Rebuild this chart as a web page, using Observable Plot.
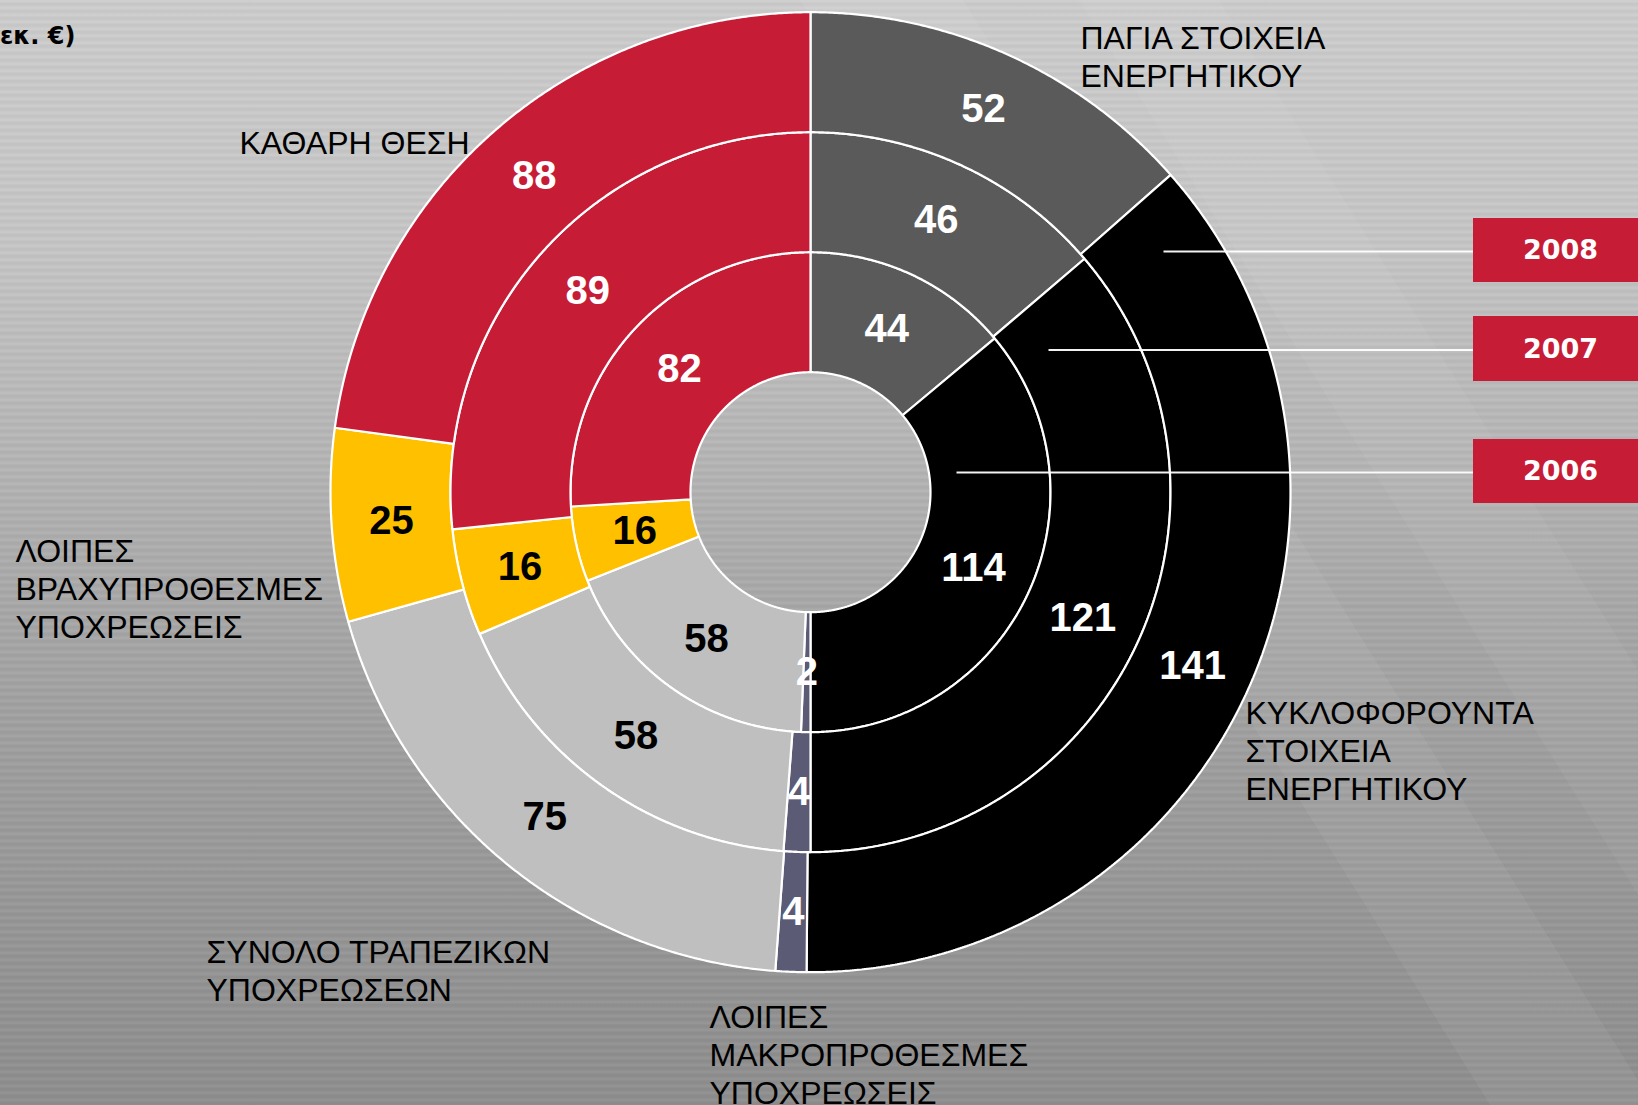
<!DOCTYPE html>
<html>
<head>
<meta charset="utf-8">
<script src="https://cdn.jsdelivr.net/npm/d3@7"></script>
<script src="https://cdn.jsdelivr.net/npm/@observablehq/plot@0.6"></script>
<style>
  html, body { margin: 0; padding: 0; width: 1638px; height: 1105px; overflow: hidden; }
  body {
    background:
      linear-gradient(58deg, rgba(255,255,255,0) 0 64%, rgba(255,255,255,0.05) 64% 71%, rgba(255,255,255,0) 71% 100%),
      linear-gradient(58deg, rgba(255,255,255,0) 0 76%, rgba(255,255,255,0.045) 76% 82%, rgba(255,255,255,0) 82% 100%),
      repeating-linear-gradient(180deg, rgba(255,255,255,0.035) 0px, rgba(255,255,255,0.035) 2px, rgba(0,0,0,0.03) 3px, rgba(0,0,0,0.03) 5px, rgba(255,255,255,0.02) 7px),
      linear-gradient(180deg, #cdcdcd 0%, #c6c6c6 22%, #b5b5b5 42%, #a8a8a8 55%, #9e9e9e 70%, #949494 88%, #8e8e8e 100%);
  }
  #chart { position: absolute; left: 0; top: 0; }
</style>
</head>
<body>
<div id="chart"></div>
<script>
// ---- data ----
const years = ["2006", "2007", "2008"]; // inner -> outer ring
const categories = [
  "ΠΑΓΙΑ ΣΤΟΙΧΕΙΑ ΕΝΕΡΓΗΤΙΚΟΥ",
  "ΚΥΚΛΟΦΟΡΟΥΝΤΑ ΣΤΟΙΧΕΙΑ ΕΝΕΡΓΗΤΙΚΟΥ",
  "ΛΟΙΠΕΣ ΜΑΚΡΟΠΡΟΘΕΣΜΕΣ ΥΠΟΧΡΕΩΣΕΙΣ",
  "ΣΥΝΟΛΟ ΤΡΑΠΕΖΙΚΩΝ ΥΠΟΧΡΕΩΣΕΩΝ",
  "ΛΟΙΠΕΣ ΒΡΑΧΥΠΡΟΘΕΣΜΕΣ ΥΠΟΧΡΕΩΣΕΙΣ",
  "ΚΑΘΑΡΗ ΘΕΣΗ"
];
const values2006 = [44, 114, 2, 58, 16, 82];
const values2007 = [46, 121, 4, 58, 16, 89];
const values2008 = [52, 141, 4, 75, 25, 88];
const unitTitle = "(σε εκ. €)";

// ---- styles ----
const sliceColors = ["#5a5a5a", "#000000", "#5b5b76", "#bfbfbf", "#ffc000", "#c61c36"];
const valueColors = ["#ffffff", "#ffffff", "#ffffff", "#000000", "#000000", "#ffffff"];
const categoryLabelLines = [
  "ΠΑΓΙΑ ΣΤΟΙΧΕΙΑ\nΕΝΕΡΓΗΤΙΚΟΥ",
  "ΚΥΚΛΟΦΟΡΟΥΝΤΑ\nΣΤΟΙΧΕΙΑ\nΕΝΕΡΓΗΤΙΚΟΥ",
  "ΛΟΙΠΕΣ\nΜΑΚΡΟΠΡΟΘΕΣΜΕΣ\nΥΠΟΧΡΕΩΣΕΙΣ",
  "ΣΥΝΟΛΟ ΤΡΑΠΕΖΙΚΩΝ\nΥΠΟΧΡΕΩΣΕΩΝ",
  "ΛΟΙΠΕΣ\nΒΡΑΧΥΠΡΟΘΕΣΜΕΣ\nΥΠΟΧΡΕΩΣΕΙΣ",
  "ΚΑΘΑΡΗ ΘΕΣΗ"
];
// label anchor (left x, first-line baseline) in page pixels
const categoryLabelPos = [[1080, 44], [1245, 719], [709, 1023], [206, 958], [15, 557], [239, 149]];
// year tags: tag top, tag bottom, leader start x (page pixels)
const tagPos = [[439, 503, 956], [316, 381, 1048], [218, 282, 1163]];

// ---- geometry ----
const W = 1638, H = 1105, CX = 810, CY = 491.7, U = 120; // U = ring width in px
const px = v => (v - CX) / U;
const py = v => (CY - v) / U;

const seriesByYear = [values2006, values2007, values2008];
const polys = [];
const centroids = [];
seriesByYear.forEach((vals, i) => {
  const arcs = d3.pie().sort(null).value(d => d)(vals);
  const r0 = i + 1, r1 = i + 2;
  arcs.forEach((a, j) => {
    const id = years[i] + "-" + j;
    const n = Math.max(2, Math.ceil((a.endAngle - a.startAngle) / 0.005));
    const pts = [];
    for (let k = 0; k <= n; k++) {
      const t = a.startAngle + (a.endAngle - a.startAngle) * k / n;
      pts.push([r1 * Math.sin(t), r1 * Math.cos(t)]);
    }
    for (let k = n; k >= 0; k--) {
      const t = a.startAngle + (a.endAngle - a.startAngle) * k / n;
      pts.push([r0 * Math.sin(t), r0 * Math.cos(t)]);
    }
    pts.push(pts[0]);
    pts.forEach(p => polys.push({id, cat: j, x: p[0], y: p[1]}));
    const m = (a.startAngle + a.endAngle) / 2, rm = (r0 + r1) / 2;
    centroids.push({x: rm * Math.sin(m), y: rm * Math.cos(m), text: String(vals[j]), color: valueColors[j]});
  });
});

const catLabels = categoryLabelLines.map((t, j) => ({
  text: t,
  x: px(categoryLabelPos[j][0]),
  y: py(categoryLabelPos[j][1] - 0.71 * 32)
}));

const tags = years.map((yr, i) => ({
  year: yr,
  y1: py(tagPos[i][0]), y2: py(tagPos[i][1]),
  ym: py((tagPos[i][0] + tagPos[i][1]) / 2 + 1),
  yt: py((tagPos[i][0] + tagPos[i][1]) / 2),
  xs: px(tagPos[i][2]),
  xt: px(1473), xe: px(W + 20), xc: px(1560)
}));

const marks = [];
sliceColors.forEach((c, j) => {
  marks.push(Plot.line(polys.filter(d => d.cat === j), {
    x: "x", y: "y", z: "id", fill: c, stroke: "#ffffff", strokeWidth: 2.2, strokeLinejoin: "miter"
  }));
});
marks.push(
  Plot.text(centroids, {
    x: "x", y: "y", text: "text", fill: "color",
    fontSize: 40, fontWeight: "bold", fontFamily: "Liberation Sans, Arial, sans-serif"
  }),
  Plot.text(catLabels, {
    x: "x", y: "y", text: "text", fill: "#000000", textAnchor: "start", lineAnchor: "top",
    lineHeight: 1.19, fontSize: 32, fontFamily: "Liberation Sans, Arial, sans-serif"
  }),
  Plot.link(tags, {x1: "xs", x2: "xt", y1: "ym", y2: "ym", stroke: "#ffffff", strokeWidth: 2, strokeOpacity: 0.95}),
  Plot.rect(tags, {x1: "xt", x2: "xe", y1: "y1", y2: "y2", fill: "#c61c36"}),
  Plot.text(tags, {
    x: "xc", y: "yt", text: "year", fill: "#ffffff",
    fontSize: 27, fontWeight: "bold", fontFamily: "DejaVu Sans, Verdana, sans-serif"
  }),
  Plot.text([unitTitle], {
    x: px(75), y: py(43 - 0.71 * 24), text: d => d, textAnchor: "end", lineAnchor: "top",
    fontSize: 24, fontWeight: "bold", fill: "#000000", fontFamily: "DejaVu Sans, Verdana, sans-serif"
  })
);

const chart = Plot.plot({
  width: W, height: H, margin: 0,
  x: {domain: [px(0), px(W)], axis: null},
  y: {domain: [py(H), py(0)], axis: null},
  color: {type: "identity"},
  style: {background: "transparent", overflow: "visible"},
  marks
});
document.getElementById("chart").appendChild(chart);
</script>
</body>
</html>
